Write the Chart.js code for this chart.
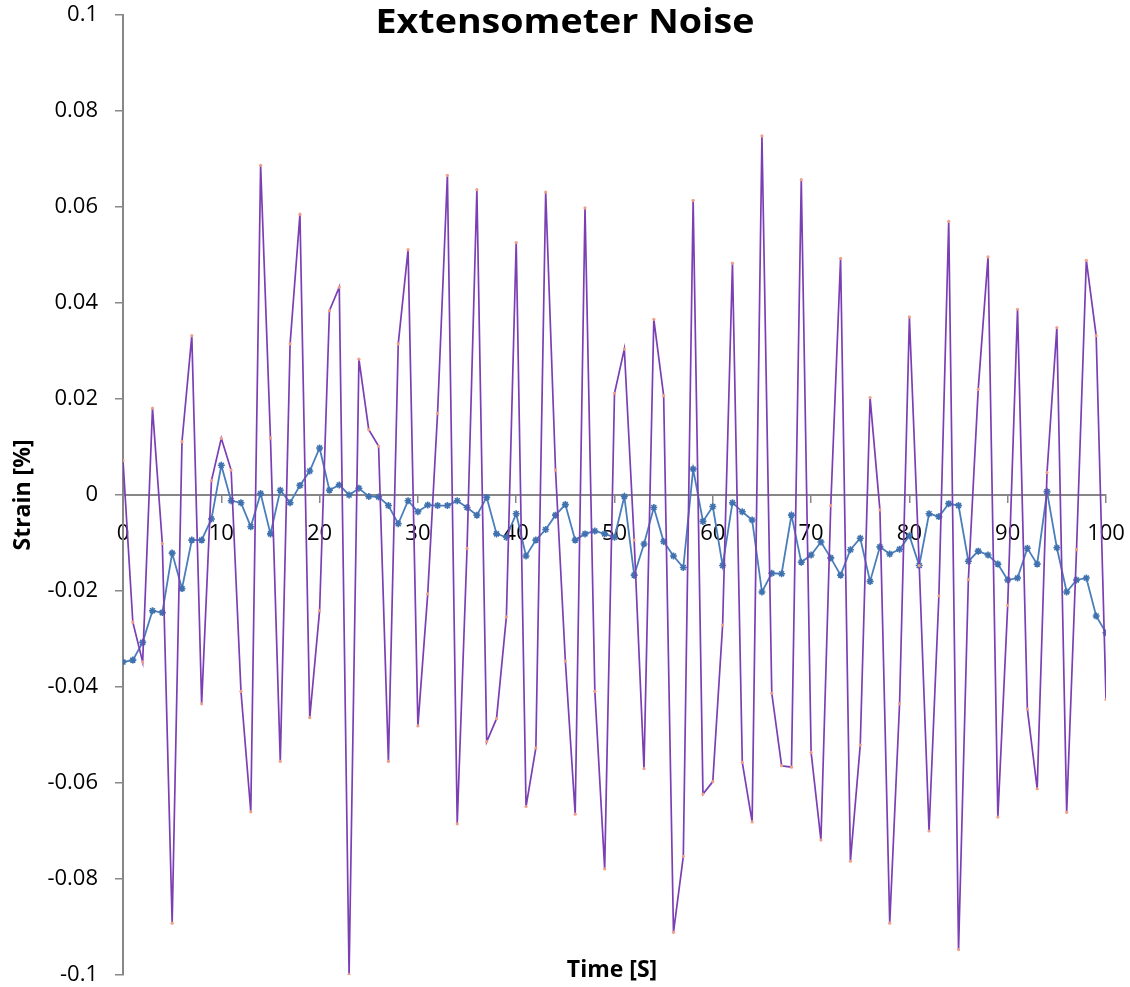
<!DOCTYPE html>
<html>
<head>
<meta charset="utf-8">
<script src="https://cdn.jsdelivr.net/npm/chart.js@4.4.1/dist/chart.umd.min.js"></script>
<style>
  html, body { margin: 0; padding: 0; background: #ffffff; }
  #wrap { position: relative; width: 1130px; height: 987px; }
  canvas { display: block; }
</style>
</head>
<body>
<div id="wrap"><canvas id="c" width="1130" height="987"></canvas></div>
<script>
// ---- Data ----
const chartTitle = "Extensometer Noise";
const xAxisTitle = "Time [S]";
const yAxisTitle = "Strain [%]";

const timeValues = [
  0,1,2,3,4,5,6,7,8,9,10,11,12,13,14,15,16,17,18,19,20,
  21,22,23,24,25,26,27,28,29,30,31,32,33,34,35,36,37,38,39,40,
  41,42,43,44,45,46,47,48,49,50,51,52,53,54,55,56,57,58,59,60,
  61,62,63,64,65,66,67,68,69,70,71,72,73,74,75,76,77,78,79,80,
  81,82,83,84,85,86,87,88,89,90,91,92,93,94,95,96,97,98,99,100
];

const seriesBlue = [
  -0.0348,-0.0344,-0.0307,-0.0241,-0.0245,-0.0121,-0.0195,-0.0094,-0.0094,-0.0050,0.0062,
  -0.0012,-0.0016,-0.0066,0.0003,-0.0081,0.0010,-0.0016,0.0020,0.0050,0.0098,
  0.0010,0.0021,0.0000,0.0014,-0.0003,-0.0004,-0.0022,-0.0060,-0.0012,-0.0035,
  -0.0021,-0.0022,-0.0022,-0.0012,-0.0026,-0.0042,-0.0005,-0.0081,-0.0088,-0.0039,
  -0.0127,-0.0094,-0.0072,-0.0042,-0.0020,-0.0094,-0.0081,-0.0075,-0.0081,-0.0088,
  -0.0003,-0.0167,-0.0102,-0.0026,-0.0097,-0.0127,-0.0151,0.0054,-0.0055,-0.0024,
  -0.0147,-0.0016,-0.0035,-0.0052,-0.0202,-0.0163,-0.0164,-0.0042,-0.0140,-0.0125,
  -0.0098,-0.0131,-0.0167,-0.0114,-0.0090,-0.0180,-0.0108,-0.0123,-0.0113,-0.0085,
  -0.0147,-0.0039,-0.0045,-0.0018,-0.0022,-0.0138,-0.0117,-0.0125,-0.0144,-0.0177,
  -0.0173,-0.0111,-0.0144,0.0007,-0.0110,-0.0202,-0.0177,-0.0173,-0.0252,-0.0287
];

const seriesPurple = [
  0.0072,-0.0265,-0.0348,0.0181,-0.0101,-0.0892,0.0111,0.0332,-0.0435,0.0030,0.0118,
  0.0052,-0.0409,-0.0660,0.0687,0.0119,-0.0555,0.0315,0.0585,-0.0464,-0.0241,
  0.0384,0.0433,-0.0999,0.0283,0.0136,0.0102,-0.0555,0.0315,0.0511,-0.0481,
  -0.0206,0.0170,0.0666,-0.0685,-0.0111,0.0636,-0.0514,-0.0466,-0.0254,0.0526,
  -0.0649,-0.0527,0.0631,0.0052,-0.0346,-0.0665,0.0598,-0.0409,-0.0779,0.0212,
  0.0304,-0.0094,-0.0570,0.0366,0.0207,-0.0911,-0.0753,0.0614,-0.0623,-0.0597,
  -0.0271,0.0483,-0.0557,-0.0681,0.0748,-0.0413,-0.0564,-0.0567,0.0657,-0.0536,
  -0.0719,-0.0022,0.0493,-0.0763,-0.0521,0.0203,-0.0031,-0.0892,-0.0435,0.0371,
  -0.0147,-0.0700,-0.0210,0.0570,-0.0947,-0.0176,0.0220,0.0496,-0.0671,-0.0230,
  0.0387,-0.0446,-0.0612,0.0047,0.0349,-0.0661,-0.0114,0.0489,0.0332,-0.0426
];

const xTickValues = [0,10,20,30,40,50,60,70,80,90,100];
const xTickLabels = ["0","10","20","30","40","50","60","70","80","90","100"];
const yTickValues = [-0.1,-0.08,-0.06,-0.04,-0.02,0,0.02,0.04,0.06,0.08,0.1];
const yTickLabels = ["-0.1","-0.08","-0.06","-0.04","-0.02","0","0.02","0.04","0.06","0.08","0.1"];

// ---- Chart ----
const AXIS = "#878787";
const FONT = "'Open Sans', 'Liberation Sans', sans-serif";

function toPoints(xs, ys) { return xs.map((x, i) => ({ x: x, y: ys[i] })); }

const overlayTitles = {
  id: "overlayTitles",
  afterDraw(chart) {
    const ctx = chart.ctx;
    ctx.save();
    ctx.fillStyle = "#000000";
    ctx.textAlign = "center";
    ctx.textBaseline = "alphabetic";
    ctx.font = "bold 36px " + FONT;
    ctx.save();
    ctx.translate(565, 33);
    ctx.scale(1.045, 0.92);
    ctx.fillText(chartTitle, 0, 0);
    ctx.restore();
    ctx.font = "bold 23px " + FONT;
    ctx.fillText(xAxisTitle, 612, 977);
    ctx.restore();
  }
};

new Chart(document.getElementById("c"), {
  type: "line",
  data: {
    datasets: [
      {
        label: "Series 2",
        data: toPoints(timeValues, seriesPurple),
        borderColor: "#7B3FB4",
        borderWidth: 1.7,
        pointRadius: 1.6,
        pointBackgroundColor: "#F0A08A",
        pointBorderWidth: 0,
        pointStyle: "circle",
        tension: 0
      },
      {
        label: "Series 1",
        data: toPoints(timeValues, seriesBlue),
        borderColor: "#4A7EBB",
        borderWidth: 1.8,
        pointRadius: 3.5,
        pointStyle: "star",
        pointBorderColor: "#3F72AE",
        pointBackgroundColor: "#3F72AE",
        pointBorderWidth: 1.6,
        tension: 0
      }
    ]
  },
  options: {
    responsive: false,
    animation: false,
    devicePixelRatio: 1,
    layout: { padding: { left: 0, top: 15, right: 24, bottom: 12 } },
    plugins: {
      legend: { display: false },
      title: { display: false },
      tooltip: { enabled: false }
    },
    scales: {
      x: {
        type: "linear",
        position: { y: 0 },
        min: 0,
        max: 100,
        afterBuildTicks: (scale) => { scale.ticks = xTickValues.map(v => ({ value: v })); },
        afterFit: (scale) => { scale.paddingLeft = 0; scale.paddingRight = 0; scale.paddingTop = 0; scale.paddingBottom = 0; },
        ticks: {
          autoSkip: false,
          maxRotation: 0,
          padding: 21,
          color: "#000000",
          font: { family: FONT, size: 22, lineHeight: 1 },
          callback: (v) => xTickLabels[xTickValues.indexOf(v)]
        },
        grid: { display: true, drawOnChartArea: false, drawTicks: true, tickLength: 7, color: AXIS, lineWidth: 1.5 },
        border: { display: true, color: AXIS, width: 2 }
      },
      y: {
        type: "linear",
        position: "left",
        min: -0.1,
        max: 0.1,
        afterBuildTicks: (scale) => { scale.ticks = yTickValues.map(v => ({ value: v })); },
        afterFit: (scale) => { scale.width = 123; scale.paddingTop = 0; scale.paddingBottom = 0; scale.paddingLeft = 0; scale.paddingRight = 0; },
        ticks: {
          autoSkip: false,
          padding: 17,
          color: "#000000",
          font: { family: FONT, size: 22, lineHeight: 1 },
          callback: (v) => yTickLabels[yTickValues.indexOf(v)]
        },
        grid: { display: true, drawOnChartArea: false, drawTicks: true, tickLength: 8, color: AXIS, lineWidth: 1.5 },
        border: { display: true, color: AXIS, width: 2 },
        title: {
          display: true,
          text: yAxisTitle,
          color: "#000000",
          font: { family: FONT, size: 23, weight: "bold", lineHeight: 1.2 },
          padding: { top: 10, bottom: 0 }
        }
      }
    }
  },
  plugins: [overlayTitles]
});
</script>
</body>
</html>
